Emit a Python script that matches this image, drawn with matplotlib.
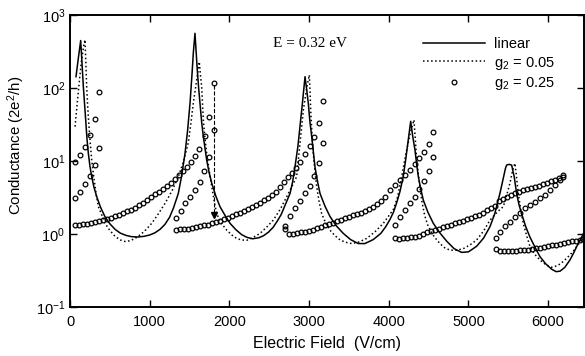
import matplotlib
matplotlib.use('Agg')
import matplotlib.pyplot as plt

plt.rcParams['font.family'] = ['Liberation Sans', 'DejaVu Sans']
plt.rcParams['mathtext.fontset'] = 'custom'
plt.rcParams['mathtext.rm'] = 'Liberation Sans'
plt.rcParams['mathtext.it'] = 'Liberation Sans:italic'

# linear model (solid)
lin_x = [75, 105, 134, 150, 167, 182, 197, 213, 230, 250, 272, 300, 335, 385, 439, 500,
         565, 630, 700, 770, 850, 930, 1000, 1066, 1130, 1190, 1250, 1300, 1359, 1400,
         1443, 1475, 1506, 1530, 1547, 1568, 1583, 1597, 1614, 1631, 1652, 1673, 1695,
         1715, 1745, 1778, 1830, 1882, 1945, 2008, 2080, 2154, 2220, 2290, 2370, 2430,
         2490, 2550, 2600, 2650, 2700, 2761, 2795, 2823, 2860, 2886, 2915, 2949, 2970,
         2990, 3010, 3033, 3055, 3074, 3105, 3137, 3200, 3262, 3340, 3429, 3520, 3617,
         3700, 3806, 3900, 3960, 4015, 4060, 4100, 4140, 4180, 4210, 4240, 4275, 4300,
         4329, 4350, 4371, 4400, 4434, 4490, 4559, 4640, 4726, 4820, 4914, 5000, 5103,
         5190, 5270, 5330, 5395, 5440, 5465, 5479, 5510, 5542, 5575, 5604, 5635, 5667,
         5720, 5771, 5835, 5897, 5970, 6043, 6100, 6150, 6210, 6273, 6320, 6357, 6420,
         6450]
lin_y = [143, 260, 447, 220, 105, 60, 36, 20, 12.7, 8.5, 6.1, 4.4, 3.24, 2.3, 1.72, 1.38,
         1.16, 1.03, 0.96, 0.92, 0.91, 0.93, 0.97, 1.04, 1.16, 1.35, 1.7, 2.3, 3.6, 6.2,
         12.7, 26, 62, 150, 299, 562, 300, 177, 100, 62, 34, 21.6, 14.5,
         10.3, 7, 5.0, 3.3, 2.37, 1.8, 1.4, 1.15, 0.98, 0.9, 0.86, 0.89, 0.95,
         1.06, 1.24, 1.5, 1.85, 2.5, 3.6, 5.3, 8.3, 16, 29.6, 60, 143, 95,
         62, 35, 21.6, 13, 8.3, 5.3, 3.6, 2.4, 1.74, 1.3, 1.02, 0.84, 0.74,
         0.74, 0.84, 1.02, 1.25, 1.58, 2.0, 2.7, 3.8, 6, 10, 18, 35, 22,
         14.1, 9, 6.1, 4.2, 2.9, 2.0, 1.4, 1.04, 0.8, 0.63, 0.56, 0.57, 0.68,
         0.88, 1.26, 1.9, 3.6, 6.0, 8.0, 8.8, 9.0, 8.8, 6.0, 3.6, 2.5, 1.9,
         1.25, 0.91, 0.66, 0.49, 0.39, 0.33, 0.305, 0.31, 0.35, 0.44, 0.55, 0.67, 0.91,
         1.05]

# g2 = 0.05 (dotted)
g05_x = [63, 100, 140, 175, 188, 200, 209, 222, 238, 255, 272, 300, 330, 356, 400, 439,
         500, 565, 630, 690, 760, 837, 930, 1025, 1110, 1192, 1280, 1359, 1420, 1485,
         1520, 1547, 1590, 1622, 1637, 1652, 1663, 1673, 1695, 1715, 1745, 1778, 1810,
         1840, 1900, 1966, 2030, 2091, 2150, 2217, 2300, 2384, 2470, 2551, 2640, 2719,
         2790, 2844, 2865, 2895, 2928, 2970, 3003, 3012, 3020, 3035, 3053, 3075, 3095,
         3125, 3158, 3210, 3262, 3325, 3388, 3460, 3534, 3630, 3722, 3830, 3931, 4020,
         4060, 4110, 4160, 4224, 4270, 4316, 4333, 4350, 4380, 4413, 4450, 4496, 4570,
         4642, 4700, 4768, 4850, 4935, 5020, 5103, 5190, 5270, 5360, 5437, 5480, 5521,
         5555, 5583, 5600, 5625, 5655, 5688, 5730, 5771, 5830, 5897, 5970, 6043, 6120,
         6190, 6260, 6315, 6370, 6420, 6450]
g05_y = [29.6, 80, 220, 400, 457, 200, 105, 55, 29.6, 17, 10.3, 5.8, 3.4, 2.37, 1.8, 1.4,
         1.12, 0.93, 0.83, 0.79, 0.81, 0.9, 1.08, 1.4, 1.9, 2.63, 3.9, 6.1, 9.5, 18,
         35, 62, 130, 229, 150, 105, 60, 36, 20, 12.7, 7.5, 4.5, 2.8,
         1.9, 1.4, 1.13, 0.97, 0.87, 0.83, 0.82, 0.9, 1.02, 1.25, 1.55, 2.2, 3.24,
         4.6, 6.1, 10.3, 22, 50, 100, 151, 90, 50, 25, 12.7, 7, 4.5,
         2.8, 1.9, 1.4, 1.13, 0.95, 0.83, 0.77, 0.74, 0.78, 0.87, 1.08, 1.4, 1.9,
         2.2, 3.2, 6.0, 14.1, 24, 36.6, 20, 10.3, 5.5, 2.9, 1.8, 1.26, 0.92,
         0.74, 0.65, 0.60, 0.6, 0.63, 0.71, 0.83, 1.1, 1.55, 2.0, 2.37, 3.4, 5.0,
         7.5, 9.3, 6.5, 3.6, 2.2, 1.4, 0.95, 0.68, 0.53, 0.44, 0.38, 0.35, 0.37,
         0.42, 0.5, 0.58, 0.7, 0.83, 0.92]

# g2 = 0.25 (circles), one list per branch
up0_x = [63, 125, 188, 251, 314, 368]
up0_y = [9.8, 12, 15.8, 22.7, 37.6, 89]
lo0_x = [63, 125, 188, 251, 314, 368]
lo0_y = [3.1, 3.8, 4.8, 6.3, 8.8, 15.2]

flat0_x = [63, 113, 163, 213, 263, 313, 363, 413, 463, 513, 563, 613, 663, 713, 763,
           813, 863, 913, 963, 1013, 1063, 1113, 1163, 1213, 1263, 1313, 1363, 1413,
           1463, 1513, 1563, 1613, 1690, 1748, 1811]
flat0_y = [1.33, 1.35, 1.37, 1.39, 1.42, 1.45, 1.49, 1.54, 1.60, 1.67, 1.75, 1.84, 1.94,
           2.05, 2.15, 2.3, 2.5, 2.7, 2.95, 3.2, 3.5, 3.8, 4.1, 4.5, 5.0, 5.6, 6.4, 7.2,
           8.3, 9.8, 11.8, 14.5, 22, 40, 117]
lo1_x = [1330, 1389, 1447, 1506, 1569, 1627, 1685, 1744, 1811]
lo1_y = [1.64, 2.08, 2.63, 3.24, 4.0, 5.2, 7.4, 11.5, 26.6]

flat1_x = [1330, 1380, 1430, 1480, 1530, 1580, 1630, 1680, 1730, 1780, 1830, 1880, 1930,
           1980, 2030, 2080, 2130, 2180, 2230, 2280, 2330, 2380, 2430, 2480, 2530, 2580,
           2630, 2680, 2730, 2780, 2830, 2886, 2949, 3012, 3066, 3128, 3179]
flat1_y = [1.15, 1.16, 1.17, 1.19, 1.21, 1.24, 1.27, 1.31, 1.35, 1.40, 1.46, 1.53, 1.60,
           1.68, 1.77, 1.86, 1.96, 2.08, 2.2, 2.35, 2.5, 2.7, 2.9, 3.15, 3.45, 3.8,
           4.4, 5.2, 6.0, 6.9, 8.1, 9.8, 12.4, 15.9, 21.6, 33.5, 67]
lo2_x = [2698, 2761, 2824, 2886, 2949, 3012, 3066, 3128, 3179]
lo2_y = [1.3, 1.78, 2.24, 2.82, 3.6, 4.6, 6.2, 9.3, 17.8]

flat2_x = [2698, 2750, 2800, 2850, 2900, 2950, 3000, 3050, 3100, 3150, 3200, 3250, 3300,
           3350, 3400, 3450, 3500, 3550, 3600, 3650, 3700, 3750, 3800, 3850, 3900, 3950,
           4015, 4077, 4140, 4203, 4266, 4329, 4383, 4446, 4509, 4559]
flat2_y = [1.17, 1.0, 1.01, 1.03, 1.05, 1.08, 1.11, 1.15, 1.2, 1.25, 1.31, 1.37, 1.43,
           1.5, 1.57, 1.64, 1.72, 1.8, 1.88, 1.97, 2.08, 2.2, 2.35, 2.55, 2.85, 3.2,
           4.0, 4.7, 5.5, 6.4, 7.5, 9.1, 11, 13.2, 17, 24.6]
lo3_x = [4077, 4140, 4203, 4266, 4329, 4383, 4446, 4509, 4559]
lo3_y = [1.33, 1.72, 2.14, 2.63, 3.24, 4.1, 5.3, 7.2, 11.3]

flat3_x = [4077, 4130, 4180, 4230, 4280, 4330, 4380, 4430, 4480, 4530, 4580, 4630, 4680,
           4730, 4780, 4830, 4880, 4930, 4980, 5030, 5080, 5130, 5180, 5230, 5280, 5330,
           5380, 5430, 5480, 5530, 5580, 5630, 5680, 5730, 5780, 5830, 5880, 5930, 5980,
           6030, 6080, 6130, 6190]
flat3_y = [0.87, 0.86, 0.87, 0.88, 0.9, 0.92, 0.95, 1.0, 1.06, 1.1, 1.14, 1.18, 1.23,
           1.28, 1.34, 1.4, 1.46, 1.53, 1.6, 1.67, 1.75, 1.85, 1.97, 2.1, 2.25, 2.45,
           2.8, 3.0, 3.2, 3.4, 3.6, 3.75, 3.95, 4.1, 4.25, 4.4, 4.6, 4.8, 5.0,
           5.25, 5.5, 5.8, 6.5]
lo4_x = [5345, 5395, 5458, 5521, 5583, 5646, 5709, 5771, 5834, 5897, 5960, 6022, 6085,
         6148, 6190]
lo4_y = [0.87, 1.07, 1.29, 1.48, 1.72, 1.95, 2.24, 2.5, 2.76, 3.1, 3.4, 4.0, 4.7, 5.5, 6.1]

flat4_x = [5345, 5400, 5450, 5500, 5550, 5600, 5650, 5700, 5750, 5800, 5850, 5900, 5950,
           6000, 6050, 6100, 6150, 6200, 6250, 6300, 6350, 6400, 6440]
flat4_y = [0.62, 0.59, 0.585, 0.58, 0.585, 0.59, 0.595, 0.6, 0.61, 0.62, 0.635, 0.65,
           0.665, 0.68, 0.7, 0.71, 0.73, 0.75, 0.77, 0.79, 0.81, 0.83, 0.85]

branches = [(up0_x, up0_y), (lo0_x, lo0_y), (flat0_x, flat0_y), (lo1_x, lo1_y),
            (flat1_x, flat1_y), (lo2_x, lo2_y), (flat2_x, flat2_y), (lo3_x, lo3_y),
            (flat3_x, flat3_y), (lo4_x, lo4_y), (flat4_x, flat4_y)]

# jump marked by the dashed arrow
jump_x = 1811
jump_top = 110
jump_bottom = 1.8

fig = plt.figure(figsize=(5.85, 3.56), dpi=100)
ax = fig.add_axes([0.1197, 0.1376, 0.8786, 0.8202])

ax.plot(lin_x, lin_y, '-', color='black', lw=1.1, label='linear')
ax.plot(g05_x, g05_y, ':', color='black', lw=1.1, label='g$_2$ = 0.05')
for i, (bx, by) in enumerate(branches):
    ax.plot(bx, by, 'o', ls='none', ms=3.4, mfc='none', mec='black', mew=0.9,
            label='g$_2$ = 0.25' if i == 0 else None)

ax.plot([jump_x, jump_x], [jump_top, jump_bottom + 0.15], '--', color='black', lw=0.8)
ax.plot([jump_x], [jump_bottom], 'v', color='black', ms=4)

ax.set_yscale('log')
ax.set_ylim(0.1, 1000)
ax.set_xlim(0, 6450)
ax.set_xticks([0, 1000, 2000, 3000, 4000, 5000, 6000])
ax.set_yticks([0.1, 1, 10, 100, 1000])
ax.minorticks_off()
ax.tick_params(direction='in', top=True, right=True, length=5, width=1, labelsize=10.5)
ax.tick_params(axis='x', pad=6)
for s in ax.spines.values():
    s.set_linewidth(1.4)

ax.set_xlabel('Electric Field  (V/cm)', fontsize=11.5)
ax.xaxis.set_label_coords(0.5, -0.1)
ax.set_ylabel('Conductance (2e$^2$/h)', fontsize=10.8)
ax.yaxis.set_label_coords(-0.084, 0.555)

ax.text(0.395, 0.904, 'E = 0.32 eV', transform=ax.transAxes, fontsize=11,
        family=['Liberation Serif', 'DejaVu Serif'], ha='left', va='center')

ax.legend(loc='upper left', bbox_to_anchor=(0.672, 0.95), frameon=False,
          handlelength=4.3, handletextpad=0.6, labelspacing=0.25, borderpad=0,
          fontsize=10.5, numpoints=1)

fig.savefig('out.png', dpi=100)
